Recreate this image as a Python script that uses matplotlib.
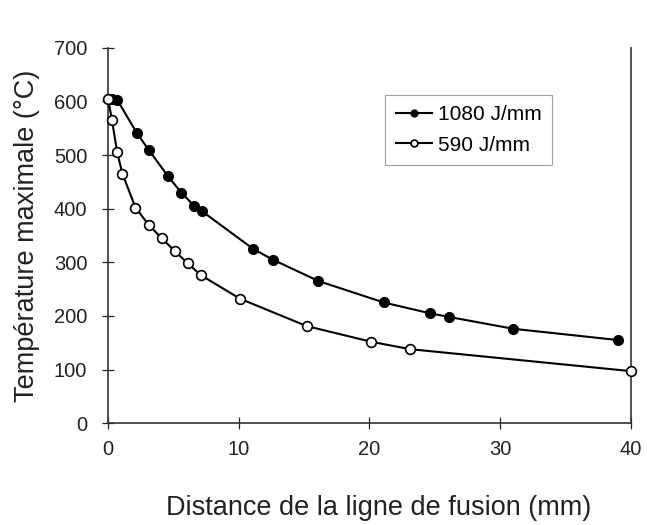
import matplotlib
matplotlib.use('Agg')
from matplotlib import pyplot as plt

# Data
dist_1080 = [0.3, 0.7, 2.2, 3.1, 4.6, 5.6, 6.6, 7.2, 11.1, 12.6, 16.1, 21.1, 24.6, 26.1, 31.0, 39.0]
temp_1080 = [605, 603, 541, 510, 460, 430, 405, 395, 325, 305, 265, 225, 205, 198, 176, 155]

dist_590 = [0.0, 0.3, 0.7, 1.1, 2.1, 3.1, 4.1, 5.1, 6.1, 7.1, 10.1, 15.2, 20.1, 23.1, 40.0]
temp_590 = [605, 565, 505, 465, 402, 370, 345, 321, 298, 276, 232, 181, 152, 138, 97]

x_ticks = [0, 10, 20, 30, 40]
y_ticks = [0, 100, 200, 300, 400, 500, 600, 700]

plt.rcParams['font.family'] = ['Liberation Sans', 'DejaVu Sans']

fig = plt.figure(figsize=(6.47, 5.25), dpi=100)
ax = fig.add_axes([0.167, 0.194, 0.808, 0.715])

ax.plot(dist_1080, temp_1080, color='black', lw=1.5, marker='o', ms=7,
        mfc='black', mec='black', label='1080 J/mm', clip_on=False, zorder=3)
ax.plot(dist_590, temp_590, color='black', lw=1.5, marker='o', ms=7,
        mfc='white', mec='black', mew=1.2, label='590 J/mm', clip_on=False, zorder=3)

ax.set_xlim(0, 40)
ax.set_ylim(0, 700)
ax.set_xticks(x_ticks)
ax.set_yticks(y_ticks)
ax.tick_params(direction='inout', length=8, width=0.9, labelsize=14.5, colors='#222222')
ax.tick_params(axis='x', pad=8)
ax.tick_params(axis='y', pad=11)

ax.spines['top'].set_visible(False)
for s in ['left', 'bottom', 'right']:
    ax.spines[s].set_linewidth(1.2)
    ax.spines[s].set_color('#333333')

ax.set_xlabel('Distance de la ligne de fusion (mm)', fontsize=19.5, color='#222222')
ax.set_ylabel('Température maximale (°C)', fontsize=19.5, labelpad=10, color='#222222')
ax.xaxis.set_label_coords(0.517, -0.225, transform=ax.transAxes)
ax.xaxis.label.set_va('center')

leg = ax.legend(loc='upper left', bbox_to_anchor=(0.53, 0.875), fontsize=15,
                frameon=True, fancybox=False, edgecolor='#888888', markerscale=0.7,
                handlelength=1.75, handletextpad=0.3, borderpad=0.5, labelspacing=0.55,
                borderaxespad=0)
leg.get_frame().set_linewidth(0.8)

fig.savefig('out.png', dpi=100)
